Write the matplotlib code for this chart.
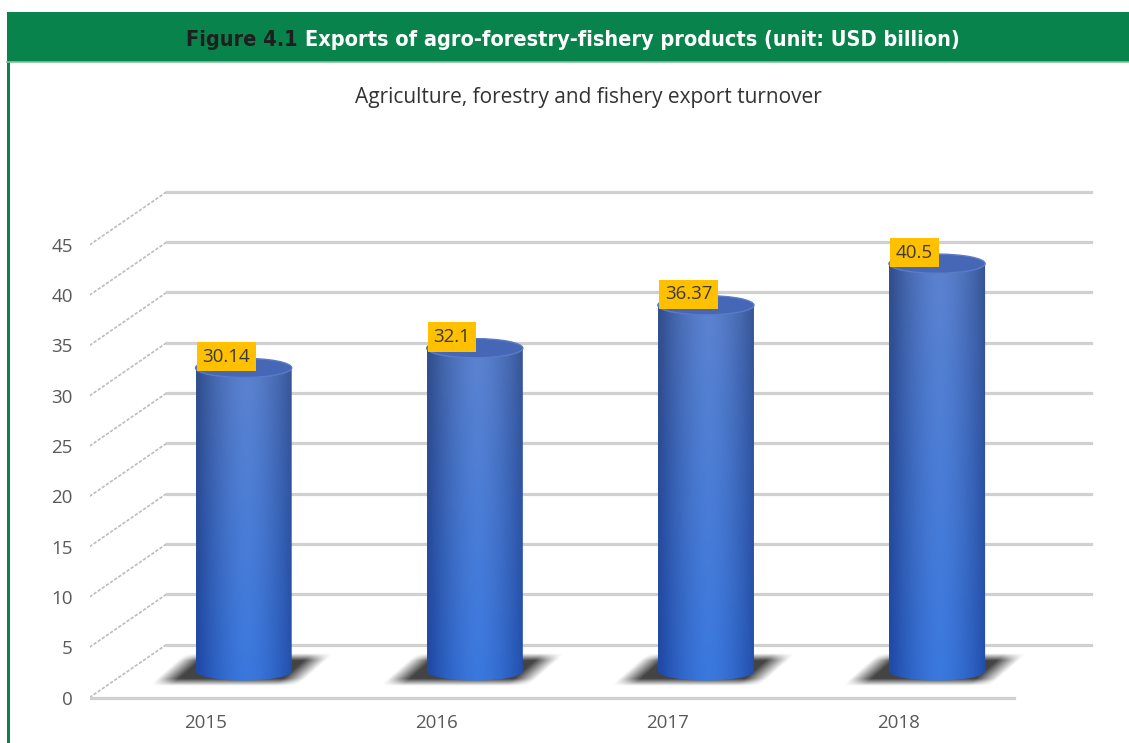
import numpy as np
import matplotlib.pyplot as plt
from matplotlib.patches import Rectangle, Ellipse, PathPatch
from matplotlib.path import Path
from matplotlib.lines import Line2D

years = ["2015", "2016", "2017", "2018"]
exports = [30.14, 32.1, 36.37, 40.5]
y_ticks = [0, 5, 10, 15, 20, 25, 30, 35, 40, 45]

GREEN = "#08834B"
GRID = "#d0d0d0"
TXT = "#595959"
SANS = ["Open Sans", "DejaVu Sans"]

fig = plt.figure(figsize=(11.29, 7.43), dpi=100)
fig.patch.set_facecolor("white")

# green title band and the left frame line of the panel
fig.add_artist(Rectangle((0.0062, 0.9166), 1.0, 0.0672, transform=fig.transFigure,
                         facecolor=GREEN, edgecolor="none"))
fig.add_artist(Line2D([0.0062, 1.0], [0.9166, 0.9166], transform=fig.transFigure,
                      color="#7cc49a", lw=1.2))
fig.add_artist(Rectangle((0.0062, 0.0), 0.0027, 0.9166, transform=fig.transFigure,
                         facecolor=GREEN, edgecolor="none"))

title_font = dict(family=["Liberation Sans Narrow", "DejaVu Sans"], stretch="condensed",
                  weight="bold", fontsize=15.6)
t1 = fig.text(0.165, 0.946, "Figure 4.1 ", color="#1e1e1e", va="center", ha="left",
              **title_font)
fig.add_artist(plt.Annotation("Exports of agro-forestry-fishery products (unit: USD billion)",
                              xy=(1, 0), xycoords=t1, va="bottom", ha="left",
                              color="white", **title_font))

fig.text(0.521, 0.869, "Agriculture, forestry and fishery export turnover",
         family=SANS, fontsize=15, color="#333333", ha="center", va="center")

ax = fig.add_axes([0.0793, 0.0409, 0.8926, 0.7107])
ax.set_facecolor("none")

# depth of the pseudo-3D box in data units
dx, dy = 1 / 3, 5.27
x_left, x_right = -0.5, len(years) - 0.5

# side wall (dashed diagonals) and back wall gridlines
for t in y_ticks:
    ax.plot([x_left, x_left + dx], [t, t + dy], color="#bdbdbd", lw=1.2,
            ls=(0, (2, 1)), solid_capstyle="butt", zorder=1)
    ax.plot([x_left + dx, x_right + dx], [t + dy, t + dy], color=GRID, lw=2.3, zorder=1)
ax.plot([x_left, x_right], [0, 0], color=GRID, lw=2.3, zorder=1)


def hexrgb(h):
    return np.array([int(h[i:i + 2], 16) / 255 for i in (1, 3, 5)])


# cylinder colours: horizontal shading, more vivid toward the base
edge_top, mid_top = hexrgb("#33508f"), hexrgb("#5b82cf")
edge_bot, mid_bot = hexrgb("#1f4aa8"), hexrgb("#3a78de")
nx, ny = 120, 120
u = np.linspace(-1, 1, nx)
prof = np.clip(1 - np.abs(u - 0.05) ** 1.6, 0, 1)[None, :, None]
vv = np.linspace(0, 1, ny)[:, None, None]
top_row = edge_top + (mid_top - edge_top) * prof
bot_row = edge_bot + (mid_bot - edge_bot) * prof
body_img = bot_row * (1 - vv) + top_row * vv

# soft shadow on the floor (pixel offsets converted to data units)
px_x, px_y = 231.0, 10.056
su = np.linspace(-110, 110, 220)
sv = np.linspace(-26, 24, 100)
SU, SV = np.meshgrid(su, sv)
centre = 12 - (SV + 14) * 30 / 26
ax_fall = np.clip((74 - np.abs(SU - centre)) / 22, 0, 1)
ay_fall = np.clip(np.minimum(SV + 17, 15 - SV) / 7, 0, 1)
shadow = np.zeros(SU.shape + (4,))
shadow[..., :3] = 0.2
shadow[..., 3] = 0.92 * ax_fall * ay_fall

w, e = 0.208, 0.95
for i, (yr, v) in enumerate(zip(years, exports)):
    cx = i + dx / 2
    y0 = dy / 2
    y1 = v + dy / 2

    ax.imshow(shadow, extent=[cx + su[0] / px_x, cx + su[-1] / px_x,
                              y0 - sv[-1] / px_y, y0 - sv[0] / px_y],
              origin="upper", aspect="auto", interpolation="bilinear", zorder=2)

    th = np.linspace(np.pi, 2 * np.pi, 40)
    verts = [(cx + w * np.cos(a), y0 + e * np.sin(a)) for a in th]
    verts += [(cx + w, y1), (cx - w, y1), verts[0]]
    codes = [Path.MOVETO] + [Path.LINETO] * (len(verts) - 2) + [Path.CLOSEPOLY]
    body = PathPatch(Path(verts, codes), facecolor="none", edgecolor="none", zorder=3)
    ax.add_patch(body)
    im = ax.imshow(body_img, extent=[cx - w, cx + w, y0 - e, y1], origin="lower",
                   aspect="auto", interpolation="bilinear", zorder=3)
    im.set_clip_path(body)

    ax.add_patch(Ellipse((cx, y1), 2 * w, 2 * e, facecolor="#4666b6",
                         edgecolor="#5a7bc6", lw=1.0, zorder=4))

    ax.text(cx - w + 7 / px_x, y1 + 1.1, f"{v:g}", ha="left", va="center",
            family=SANS, fontsize=13.5, color="#3a3a3a",
            bbox=dict(boxstyle="square,pad=0.3", facecolor="#FFC000", edgecolor="none"),
            zorder=5)

ax.set_xlim(-0.5, 3.86)
ax.set_ylim(-1.5, 51)
ax.set_xticks(range(len(years)))
ax.set_xticklabels(years)
ax.set_yticks(y_ticks)
ax.tick_params(length=0, labelsize=13.5, labelcolor=TXT)
ax.tick_params(axis="y", pad=12)
ax.tick_params(axis="x", pad=1)
for lab in ax.get_xticklabels() + ax.get_yticklabels():
    lab.set_family(SANS)
for s in ax.spines.values():
    s.set_visible(False)

fig.savefig("out.png", dpi=100)
